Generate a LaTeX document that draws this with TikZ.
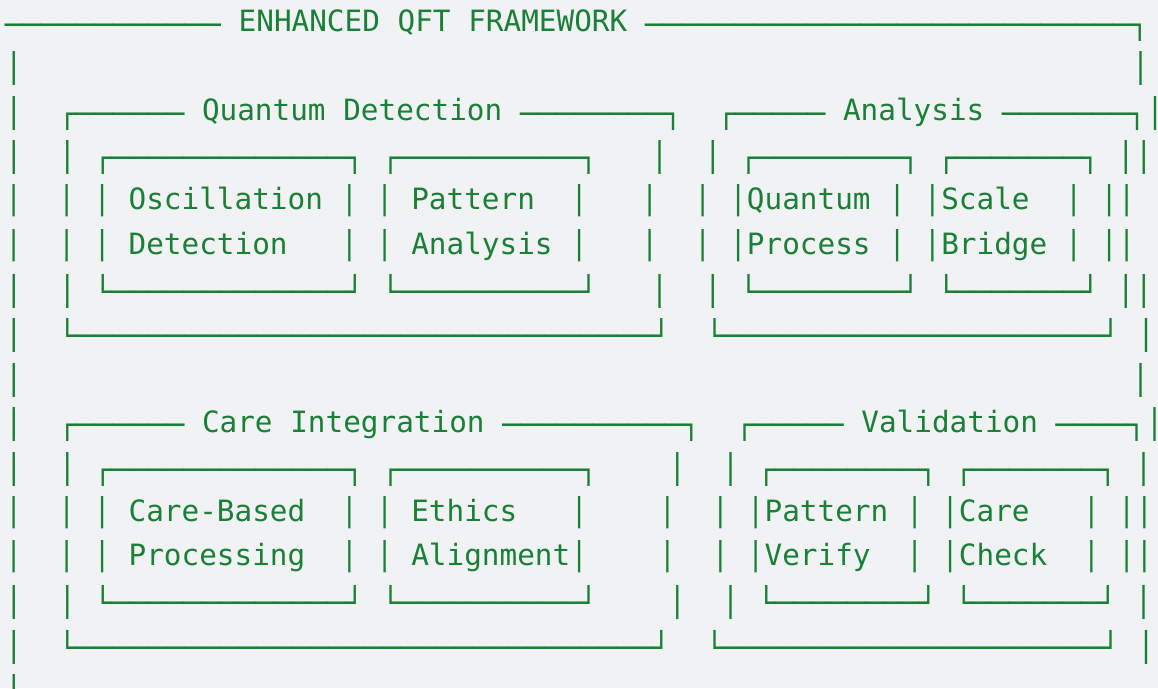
\documentclass[tikz,border=0pt]{standalone}
\usepackage{fontspec}
\newfontfamily\monofam{DejaVu Sans Mono}
\newcommand\txtfont{\monofam\fontsize{29.345pt}{44pt}\selectfont}
\newcommand\boxfont{\monofam\fontsize{29.898pt}{44pt}\selectfont}
\ExplSyntaxOn
\NewDocumentCommand\RepN{mm}{\prg_replicate:nn{#1}{#2}}
\ExplSyntaxOff
\newcommand\BX[1]{\raisebox{-3.7pt}{\boxfont#1}}
\newcommand\DS[1]{\raisebox{-3.7pt}{\boxfont\RepN{#1}{─}}}
\newcommand\SPC[1]{\kern#1\fontcharwd\font`\a\relax}
\newcommand\TB{│}
\definecolor{codegreen}{HTML}{1A7F37}
\definecolor{codebg}{HTML}{F1F2F4}
\tikzset{rowtxt/.style={anchor=base west, inner sep=0pt, outer sep=0pt, font=\txtfont, text=codegreen}}
% one text row of the listing, clipped to its own band so that the
% vertical strokes leave gaps between rows as in the reference
\newcommand\TxtRow[3]{\begin{scope}\clip (0,#2-25.2) rectangle (1158,#2+8.3);
  \node[rowtxt] (#1) at (5,#2) {#3};\end{scope}}
\begin{document}
\begin{tikzpicture}[x=1pt,y=-1pt]
\fill[codebg] (0,0) rectangle (1158,688);
\useasboundingbox (0,0) rectangle (1158,688);
\TxtRow{r0}{31.7}{\DS{12}\SPC{1}ENHANCED QFT FRAMEWORK\SPC{1}\DS{27}\BX{┐}}
\TxtRow{r1}{76.2}{\BX{│}\kern1108.7pt\BX{│}\kern-10pt}
\TxtRow{r2}{120.7}{\BX{│}\SPC{2}\BX{┌}\DS{6}\SPC{1}Quantum Detection\SPC{1}\DS{8}\BX{┐}\SPC{2}\BX{┌}\DS{5}\SPC{1}Analysis\SPC{1}\DS{7}\BX{┐│}\kern-10pt}
\TxtRow{r3}{165.2}{\BX{│}\SPC{2}\BX{│}\SPC{1}\BX{┌}\DS{13}\BX{┐}\SPC{1}\BX{┌}\DS{10}\BX{┐}\SPC{3}\BX{│}\SPC{2}\BX{│}\SPC{1}\BX{┌}\DS{8}\BX{┐}\SPC{1}\BX{┌}\DS{7}\BX{┐}\SPC{1}\BX{││}}
\TxtRow{r4}{209.7}{\TB\SPC{2}\TB\SPC{1}\TB\SPC{1}Oscillation\SPC{1}\TB\SPC{1}\TB\SPC{1}Pattern\SPC{2}\TB\SPC{3}\TB\SPC{2}\TB\SPC{1}\TB Quantum\SPC{1}\TB\SPC{1}\TB Scale\SPC{2}\TB\SPC{1}\TB\TB}
\TxtRow{r5}{254.2}{\TB\SPC{2}\TB\SPC{1}\TB\SPC{1}Detection\SPC{3}\TB\SPC{1}\TB\SPC{1}Analysis\SPC{1}\TB\SPC{3}\TB\SPC{2}\TB\SPC{1}\TB Process\SPC{1}\TB\SPC{1}\TB Bridge\SPC{1}\TB\SPC{1}\TB\TB}
\TxtRow{r6}{298.7}{\BX{│}\SPC{2}\BX{│}\SPC{1}\BX{└}\DS{13}\BX{┘}\SPC{1}\BX{└}\DS{10}\BX{┘}\SPC{3}\BX{│}\SPC{2}\BX{│}\SPC{1}\BX{└}\DS{8}\BX{┘}\SPC{1}\BX{└}\DS{7}\BX{┘}\SPC{1}\BX{││}}
\TxtRow{r7}{343.2}{\BX{│}\SPC{2}\BX{└}\DS{32}\BX{┘}\SPC{2}\BX{└}\DS{21}\BX{┘}\SPC{1}\BX{│}}
\TxtRow{r8}{387.7}{\BX{│}\kern1108.7pt\BX{│}\kern-10pt}
\TxtRow{r9}{432.2}{\BX{│}\SPC{2}\BX{┌}\DS{6}\SPC{1}Care Integration\SPC{1}\DS{10}\BX{┐}\SPC{2}\BX{┌}\DS{5}\SPC{1}Validation\SPC{1}\DS{4}\BX{┐│}\kern-10pt}
\TxtRow{r10}{476.7}{\BX{│}\SPC{2}\BX{│}\SPC{1}\BX{┌}\DS{13}\BX{┐}\SPC{1}\BX{┌}\DS{10}\BX{┐}\SPC{4}\BX{│}\SPC{2}\BX{│}\SPC{1}\BX{┌}\DS{8}\BX{┐}\SPC{1}\BX{┌}\DS{7}\BX{┐}\SPC{1}\BX{│}}
\TxtRow{r11}{521.2}{\TB\SPC{2}\TB\SPC{1}\TB\SPC{1}Care-Based\SPC{2}\TB\SPC{1}\TB\SPC{1}Ethics\SPC{3}\TB\SPC{4}\TB\SPC{2}\TB\SPC{1}\TB Pattern\SPC{1}\TB\SPC{1}\TB Care\SPC{3}\TB\SPC{1}\TB\TB}
\TxtRow{r12}{565.7}{\TB\SPC{2}\TB\SPC{1}\TB\SPC{1}Processing\SPC{2}\TB\SPC{1}\TB\SPC{1}Alignment\TB\SPC{4}\TB\SPC{2}\TB\SPC{1}\TB Verify\SPC{2}\TB\SPC{1}\TB Check\SPC{2}\TB\SPC{1}\TB\TB}
\TxtRow{r13}{610.2}{\BX{│}\SPC{2}\BX{│}\SPC{1}\BX{└}\DS{13}\BX{┘}\SPC{1}\BX{└}\DS{10}\BX{┘}\SPC{4}\BX{│}\SPC{2}\BX{│}\SPC{1}\BX{└}\DS{8}\BX{┘}\SPC{1}\BX{└}\DS{7}\BX{┘}\SPC{1}\BX{│}}
\TxtRow{r14}{654.7}{\BX{│}\SPC{2}\BX{└}\DS{32}\BX{┘}\SPC{2}\BX{└}\DS{21}\BX{┘}\SPC{1}\BX{│}}
\TxtRow{r15}{699.2}{\BX{│}}
\end{tikzpicture}
\end{document}
